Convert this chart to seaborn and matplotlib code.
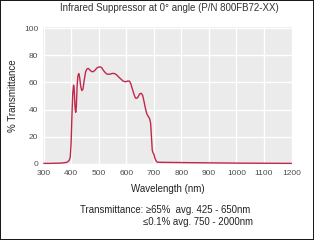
import matplotlib
matplotlib.use("Agg")
import matplotlib.pyplot as plt
import seaborn as sns
import pandas as pd

# transmittance curve
wavelength = [300, 320, 340, 360, 375, 385, 392, 396, 399, 402, 405, 408, 410, 412,
              414, 416, 418, 421, 424, 427, 430, 434, 438, 442, 447, 452, 457, 462,
              468, 474, 480, 486, 492, 498, 504, 510, 516, 522, 528, 535, 542, 550,
              558, 565, 572, 580, 588, 596, 604, 611, 616, 622, 628, 633, 638, 643,
              648, 654, 659, 664, 669, 674, 679, 684, 688, 691, 694, 697, 700, 704,
              708, 713, 720, 800, 900, 1000, 1100, 1200]
transmittance = [0.3, 0.3, 0.4, 0.5, 0.8, 1.2, 2.5, 5, 15, 35, 52, 58, 56, 47,
                 40, 38, 42, 58, 65, 66.5, 64, 57, 54, 55, 62, 68, 70, 70.3,
                 69, 68, 68, 69, 70.5, 71.3, 71.5, 71, 69, 67.5, 66.3, 66, 66.2, 66.7,
                 66.5, 65.5, 64, 62.5, 61, 60.5, 61, 61, 59, 55, 51, 48.5, 48.3, 49.5,
                 51.5, 52, 50.5, 46, 41, 37, 35, 33.5, 30, 20, 10, 8, 7, 4,
                 2, 1.2, 1.1, 0.9, 0.7, 0.5, 0.4, 0.3]
x_ticks = [300, 400, 500, 600, 700, 800, 900, 1000, 1100, 1200]
y_ticks = [0, 20, 40, 60, 80, 100]

df = pd.DataFrame({"wl": wavelength, "t": transmittance})

sns.set_theme(style="darkgrid", rc={"axes.facecolor": "#ebebeb", "grid.color": "white",
                                    "grid.linewidth": 1.0, "figure.facecolor": "white"})
plt.rcParams["font.family"] = ["Liberation Sans", "DejaVu Sans"]

fig = plt.figure(figsize=(3.14, 2.4), dpi=100)
fig.patch.set_edgecolor("#1a1a1a")
fig.patch.set_linewidth(1.2)
ax = fig.add_axes([0.137, 0.313, 0.794, 0.574])

sns.lineplot(data=df, x="wl", y="t", ax=ax, color="#c0284a", linewidth=1.0)

ax.set_xlim(297, 1203)
ax.set_ylim(-0.8, 100.8)
ax.set_xticks(x_ticks)
ax.set_yticks(y_ticks)
ax.tick_params(labelsize=6.0, colors="#4d4d4d", length=2, pad=1.5, width=0.5)
ax.set_xlabel("Wavelength (nm)", fontsize=7.0, color="#222222", labelpad=5)
ax.set_ylabel("% Transmittance", fontsize=7.0, color="#222222", labelpad=4)
for s in ax.spines.values():
    s.set_visible(False)

fig.text(0.54, 0.965, "Infrared Suppressor at 0° angle (P/N 800FB72-XX)",
         ha="center", va="center", fontsize=7.0, color="#333333")
fig.text(0.255, 0.125, "Transmittance: ≥65%  avg. 425 - 650nm",
         ha="left", va="center", fontsize=6.9, color="#222222")
fig.text(0.457, 0.073, "≤0.1% avg. 750 - 2000nm",
         ha="left", va="center", fontsize=6.9, color="#222222")

fig.savefig("out.png", dpi=100, edgecolor=fig.get_edgecolor())
